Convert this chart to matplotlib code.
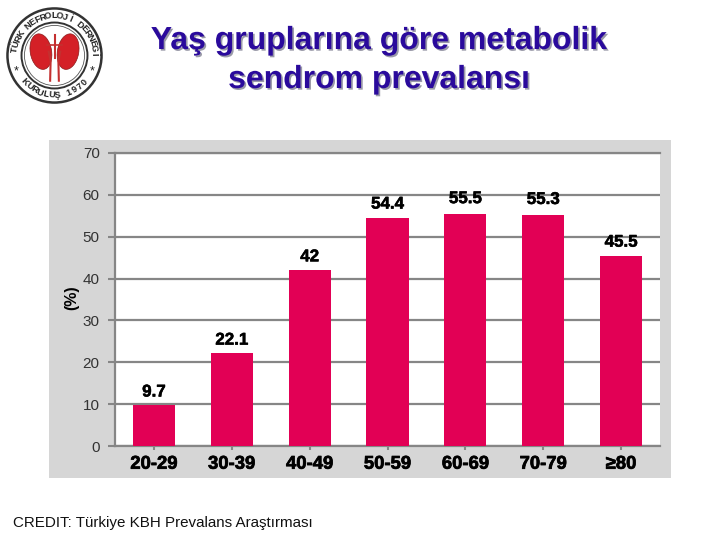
import matplotlib
matplotlib.use("Agg")
import matplotlib.pyplot as plt
import matplotlib.patheffects as pe
from matplotlib.patches import Circle, Ellipse
import numpy as np

age_groups = ["20-29", "30-39", "40-49", "50-59", "60-69", "70-79", "≥80"]
prevalence = [9.7, 22.1, 42, 54.4, 55.5, 55.3, 45.5]
bar_labels = ["9.7", "22.1", "42", "54.4", "55.5", "55.3", "45.5"]
y_ticks = [0, 10, 20, 30, 40, 50, 60, 70]

W, H = 720, 540
plt.rcParams['font.family'] = ['Liberation Sans', 'DejaVu Sans']


def box(x0, y0, x1, y1):
    # pixel box (top-left origin) to figure fractions
    return [x0 / W, 1 - y1 / H, (x1 - x0) / W, (y1 - y0) / H]


def ring_text(ax, text, radius, start, end, size):
    angles = np.linspace(start, end, len(text))
    for ch, a in zip(text, angles):
        rot = np.deg2rad(a)
        # rotation keeps the letters reading outward from the centre
        rotation = a - 90 if 0 <= a <= 180 else a + 90
        ax.text(radius * np.cos(rot), radius * np.sin(rot), ch, fontsize=size, fontweight='bold',
                rotation=rotation, ha='center', va='center', color='#222222')


fig = plt.figure(figsize=(7.2, 5.4), dpi=100, facecolor='white')

# grey panel behind the chart
panel = fig.add_axes(box(49, 140, 671, 478), facecolor='#d6d6d6')
panel.set_xticks([])
panel.set_yticks([])
for s in panel.spines.values():
    s.set_visible(False)

ax = fig.add_axes(box(115, 153, 660, 446), facecolor='white')
x = np.arange(len(age_groups))
ax.bar(x, prevalence, width=0.54, color='#e20055', zorder=3)
ax.set_xlim(-0.5, 6.5)
ax.set_ylim(0, 70)
ax.set_yticks(y_ticks)
ax.set_xticks(x)
ax.set_xticklabels(age_groups, fontsize=13.3, fontweight='bold', color='black',
                   path_effects=[pe.withStroke(linewidth=0.5, foreground='black')])
ax.tick_params(axis='y', length=5, width=1.5, color='#868686', labelsize=11, labelcolor='#333333', pad=6)
ax.tick_params(axis='x', length=3, width=1.5, color='#868686', pad=4, direction='out')
ax.grid(axis='y', color='#868686', linewidth=1.6, zorder=1)
ax.set_axisbelow(True)
for name in ['left', 'bottom', 'top']:
    ax.spines[name].set_color('#868686')
    ax.spines[name].set_linewidth(1.6)
ax.spines['right'].set_visible(False)

label_gaps = [3.2, 3.2, 3.2, 3.4, 3.6, 3.6, 3.2]
for xi, v, lab, gap in zip(x, prevalence, bar_labels, label_gaps):
    ax.text(xi, v + gap, lab, ha='center', va='center', fontsize=12.2, fontweight='bold', color='black',
            path_effects=[pe.withStroke(linewidth=0.4, foreground='black')], zorder=4)

fig.text(72 / W, 1 - 298 / H, "(%)", rotation=90, ha='center', va='center', fontsize=11.5,
         fontweight='bold', color='black')

# title with its soft shadow
title_shadow = [pe.withSimplePatchShadow(offset=(1.2, -1.2), shadow_rgbFace='#8f8f9f', alpha=0.9)]
fig.text(379 / W, 1 - 41 / H, "Yaş gruplarına göre metabolik", ha='center', va='center',
         fontsize=23, fontweight='bold', color='#2a0a9c', path_effects=title_shadow)
fig.text(379 / W, 1 - 80 / H, "sendrom prevalansı", ha='center', va='center',
         fontsize=23, fontweight='bold', color='#2a0a9c', path_effects=title_shadow)

fig.text(13 / W, 1 - 523 / H, "CREDIT: Türkiye KBH Prevalans Araştırması", ha='left', va='center',
         fontsize=10.9, color='#111111')

# society logo
logo = fig.add_axes(box(6, 7, 103, 104))
logo.set_xlim(-1, 1)
logo.set_ylim(-1, 1)
logo.axis('off')
logo.add_patch(Circle((0, 0), 0.97, fc='white', ec='#333333', lw=1.8))
logo.add_patch(Circle((0, 0), 0.68, fc='white', ec='#333333', lw=1.4))
logo.add_patch(Circle((0, 0), 0.62, fc='white', ec='#555555', lw=0.6))
for side in [-1, 1]:
    logo.add_patch(Ellipse((side * 0.28, 0.08), 0.44, 0.74, angle=side * -10, fc='#d42027', ec='#8c1a1a', lw=0.5))
    logo.plot([side * 0.12, side * 0.08, side * 0.09], [0.08, -0.12, -0.52], color='#c43030', lw=1.5)
logo.plot([0, 0], [0.42, -0.05], color='#c43030', lw=1.5)
logo.plot([-0.16, 0.16], [0.22, 0.22], color='#c43030', lw=1.2)
ring_text(logo, "TÜRK NEFROLOJİ DERNEĞİ", 0.82, 172, 2, 6.6)
ring_text(logo, "KURULUŞ 1970", 0.82, 222, 318, 6.6)
logo.text(-0.78, -0.32, "*", fontsize=9, ha='center', va='center', color='#222222')
logo.text(0.78, -0.32, "*", fontsize=9, ha='center', va='center', color='#222222')

fig.savefig("out.png", dpi=100)
